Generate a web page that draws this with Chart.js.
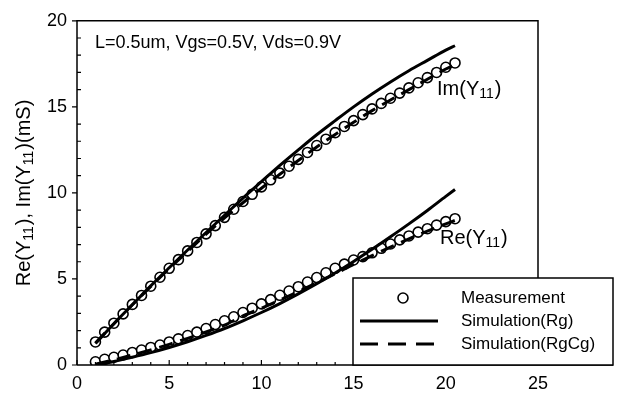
<!DOCTYPE html>
<html><head><meta charset="utf-8">
<script src="https://cdn.jsdelivr.net/npm/chart.js@4/dist/chart.umd.min.js"></script>
<style>html,body{margin:0;padding:0;background:#fff;}#wrap{width:617px;height:394px;}</style>
</head><body><div id="wrap"><canvas id="c" width="617" height="394"></canvas></div>
<script>
// ---- data ----
const measX = [1,1.5,2,2.5,3,3.5,4,4.5,5,5.5,6,6.5,7,7.5,8,8.5,9,9.5,10,10.5,11,11.5,12,12.5,13,13.5,14,14.5,15,15.5,16,16.5,17,17.5,18,18.5,19,19.5,20,20.5];
const measIm = [1.34,1.91,2.43,2.97,3.52,4.04,4.58,5.1,5.62,6.12,6.63,7.12,7.62,8.1,8.58,9.05,9.5,9.92,10.35,10.76,11.15,11.55,11.95,12.35,12.75,13.12,13.5,13.86,14.2,14.55,14.88,15.2,15.5,15.8,16.1,16.4,16.7,17.0,17.3,17.55];
const measRe = [0.19,0.33,0.45,0.58,0.73,0.87,1.02,1.16,1.34,1.52,1.71,1.91,2.12,2.35,2.57,2.8,3.05,3.3,3.55,3.8,4.05,4.3,4.55,4.82,5.08,5.36,5.62,5.86,6.1,6.3,6.52,6.78,7.03,7.27,7.5,7.72,7.92,8.13,8.33,8.5];
const simX = [1,2,3,4,5,6,7,8,9,10,11,12,13,14,15,16,17,18,19,20,20.5];
const rgIm = [1.25,2.4,3.5,4.6,5.65,6.68,7.7,8.7,9.7,10.65,11.6,12.5,13.38,14.2,15.0,15.75,16.45,17.1,17.7,18.3,18.55];
const rgcgIm = [1.28,2.4,3.5,4.56,5.6,6.6,7.6,8.55,9.43,10.27,11.08,11.88,12.67,13.4,14.1,14.78,15.4,16.0,16.6,17.2,17.45];
const rgRe = [0.02,0.2,0.45,0.72,1.02,1.35,1.72,2.12,2.57,3.05,3.57,4.13,4.72,5.35,6.02,6.72,7.45,8.2,8.98,9.8,10.2];
const rgcgRe = [0.05,0.3,0.58,0.88,1.2,1.55,1.92,2.32,2.85,3.3,3.77,4.27,4.78,5.3,5.85,6.35,6.85,7.33,7.78,8.2,8.4];
const xTicks = [0,5,10,15,20,25];
const yTicks = [0,5,10,15,20];
const seriesNames = ['Measurement','Simulation(Rg)','Simulation(RgCg)'];

const pts = (xs, ys) => xs.map((x, i) => ({x, y: ys[i]}));
const FONT = '"Liberation Sans", Arial, sans-serif';
const DASH = [14, 8];

function drawRich(ctx, parts, x, y, size) {
  let cx = x;
  for (const [t, sub] of parts) {
    ctx.font = (sub ? Math.round(size * 0.68) : size) + 'px ' + FONT;
    ctx.fillText(t, cx, sub ? y + size * 0.28 : y);
    cx += ctx.measureText(t).width + (sub ? 1 : 0);
  }
  return cx - x;
}
function richWidth(ctx, parts, size) {
  let w = 0;
  for (const [t, sub] of parts) {
    ctx.font = (sub ? Math.round(size * 0.68) : size) + 'px ' + FONT;
    w += ctx.measureText(t).width + (sub ? 1 : 0);
  }
  return w;
}

const deco = {
  id: 'deco',
  afterDraw(chart) {
    const ctx = chart.ctx, a = chart.chartArea;
    const xs = chart.scales.x, ys = chart.scales.y;
    const legTop = 278, legLeft = 353, legRight = 613;
    ctx.save();
    ctx.strokeStyle = '#000'; ctx.fillStyle = '#000';
    ctx.lineWidth = 1.5;
    ctx.beginPath();
    ctx.moveTo(a.left, a.bottom); ctx.lineTo(a.left, a.top); ctx.lineTo(a.right, a.top); ctx.lineTo(a.right, legTop);
    ctx.moveTo(a.left, a.bottom); ctx.lineTo(legRight, a.bottom);
    ctx.stroke();
    ctx.lineWidth = 1.2;
    ctx.beginPath();
    for (let v = ys.min; v <= ys.max; v += 1) {
      const py = ys.getPixelForValue(v);
      if (v % 5 === 0) { ctx.moveTo(a.left - 5, py); ctx.lineTo(a.left, py); }
      else { ctx.moveTo(a.left, py); ctx.lineTo(a.left + 4, py); }
    }
    for (let v = xs.min; v <= xs.max; v += 1) {
      const px = xs.getPixelForValue(v);
      if (v % 5 === 0) { ctx.moveTo(px, a.bottom); ctx.lineTo(px, a.bottom - 5); }
      else { ctx.moveTo(px, a.bottom); ctx.lineTo(px, a.bottom - 3); }
    }
    ctx.stroke();
    ctx.save();
    ctx.translate(24, 193);
    ctx.rotate(-Math.PI / 2);
    ctx.textBaseline = 'middle'; ctx.textAlign = 'left';
    const tParts = [['Re(Y', 0], ['11', 1], ['), Im(Y', 0], ['11', 1], [')(mS)', 0]];
    const tw = richWidth(ctx, tParts, 20);
    drawRich(ctx, tParts, -tw / 2, 0, 20);
    ctx.restore();
    ctx.textBaseline = 'middle'; ctx.textAlign = 'left';
    ctx.font = '18px ' + FONT;
    ctx.fillText('L=0.5um, Vgs=0.5V, Vds=0.9V', 95, 43);
    drawRich(ctx, [['Im(Y', 0], ['11', 1], [')', 0]], 437, 89, 20);
    drawRich(ctx, [['Re(Y', 0], ['11', 1], [')', 0]], 440, 238, 20);
    ctx.fillStyle = '#fff';
    ctx.fillRect(legLeft, legTop, legRight - legLeft, a.bottom - legTop);
    ctx.fillStyle = '#000';
    ctx.lineWidth = 1.5;
    ctx.strokeRect(legLeft, legTop, legRight - legLeft, a.bottom - legTop);
    ctx.beginPath(); ctx.arc(403, 298, 5, 0, Math.PI * 2);
    ctx.fillStyle = '#fff'; ctx.fill(); ctx.lineWidth = 1.6; ctx.stroke();
    ctx.fillStyle = '#000';
    ctx.lineWidth = 3;
    ctx.beginPath(); ctx.moveTo(360, 321); ctx.lineTo(438, 321); ctx.stroke();
    ctx.setLineDash([18, 10]);
    ctx.beginPath(); ctx.moveTo(360, 344); ctx.lineTo(438, 344); ctx.stroke();
    ctx.setLineDash([]);
    ctx.font = '17px ' + FONT;
    ctx.fillText(seriesNames[0], 461, 298);
    ctx.fillText(seriesNames[1], 461, 321);
    ctx.fillText(seriesNames[2], 461, 344);
    ctx.restore();
  }
};

const circleStyle = {showLine: false, pointRadius: 5, pointBackgroundColor: '#fff', pointBorderColor: '#000', pointBorderWidth: 1.6, order: 3};
const lineStyle = {showLine: true, pointRadius: 0, borderColor: '#000', borderWidth: 3, cubicInterpolationMode: 'monotone', fill: false};

new Chart(document.getElementById('c'), {
  type: 'scatter',
  data: {
    datasets: [
      Object.assign({label: seriesNames[0], data: pts(measX, measIm)}, circleStyle),
      Object.assign({label: seriesNames[0], data: pts(measX, measRe)}, circleStyle),
      Object.assign({label: seriesNames[1], data: pts(simX, rgIm), order: 1}, lineStyle),
      Object.assign({label: seriesNames[1], data: pts(simX, rgRe), order: 1}, lineStyle),
      Object.assign({label: seriesNames[2], data: pts(simX, rgcgIm), order: 2, borderDash: DASH}, lineStyle),
      Object.assign({label: seriesNames[2], data: pts(simX, rgcgRe), order: 2, borderDash: DASH}, lineStyle)
    ]
  },
  options: {
    responsive: false, animation: false, devicePixelRatio: 1,
    layout: {padding: {left: 0, top: 17, right: 79, bottom: 0}},
    plugins: {legend: {display: false}, tooltip: {enabled: false}},
    scales: {
      x: {
        type: 'linear', min: 0, max: 25,
        afterFit(s) { s.height = 29; },
        afterBuildTicks(s) { s.ticks = xTicks.map(v => ({value: v})); },
        grid: {display: false, drawTicks: false},
        border: {display: false},
        ticks: {color: '#000', padding: 8, font: {family: FONT, size: 18}, maxRotation: 0}
      },
      y: {
        type: 'linear', min: 0, max: 20,
        afterFit(s) { s.width = 77; },
        afterBuildTicks(s) { s.ticks = yTicks.map(v => ({value: v})); },
        grid: {display: false, drawTicks: false},
        border: {display: false},
        ticks: {color: '#000', padding: 10, font: {family: FONT, size: 18}}
      }
    }
  },
  plugins: [deco]
});
</script></body></html>
